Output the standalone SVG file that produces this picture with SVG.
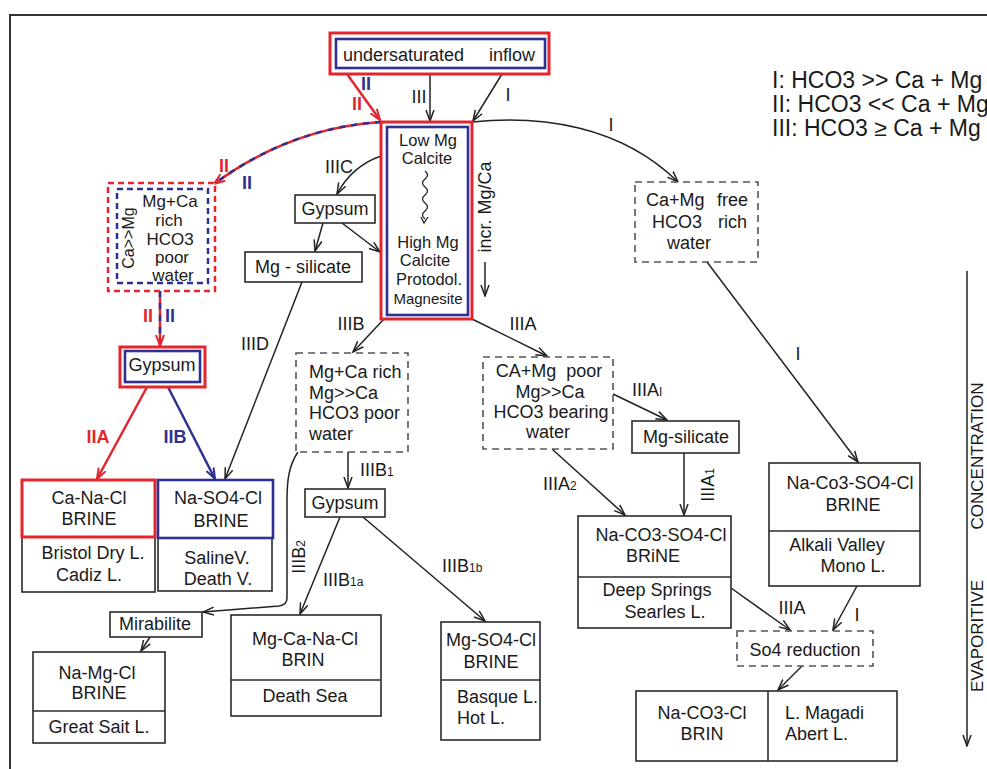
<svg xmlns="http://www.w3.org/2000/svg" width="987" height="769" viewBox="0 0 987 769">
<style>
text{font-family:"Liberation Sans",Arial,sans-serif;font-size:18px;fill:#1a1a1a}
.m{text-anchor:middle}
.box{fill:#fff;stroke:#2a2a2a;stroke-width:1.6}
.dash{fill:#fff;stroke:#555;stroke-width:1.6;stroke-dasharray:7 5}
.red{fill:none;stroke:#e3262e;stroke-width:3}
.blue{fill:none;stroke:#2e3192;stroke-width:2.6}
.ln{fill:none;stroke:#222;stroke-width:1.5;marker-end:url(#ah)}
.lr{fill:none;stroke:#e3262e;stroke-width:2.5;marker-end:url(#ahr)}
.lb{fill:none;stroke:#2e3192;stroke-width:2.5;marker-end:url(#ahb)}
.ov{fill:none;stroke:#2e3192;stroke-width:2.5;stroke-dasharray:6 6}
.rt{fill:#e3262e;font-weight:bold}
.bt{fill:#2e3192;font-weight:bold}
.sub{font-size:12px}
.cb{font-size:16.5px}
.lg{font-size:23px}
</style>
<defs>
<marker id="ah" viewBox="0 0 12 10" refX="11" refY="5" markerWidth="12" markerHeight="10" markerUnits="userSpaceOnUse" orient="auto"><path d="M0,1 L11,5 L0,9" fill="none" stroke="#222" stroke-width="1.5"/></marker>
<marker id="ahr" viewBox="0 0 12 10" refX="11" refY="5" markerWidth="12" markerHeight="10" markerUnits="userSpaceOnUse" orient="auto"><path d="M0,1 L11,5 L0,9" fill="none" stroke="#e3262e" stroke-width="2"/></marker>
<marker id="ahb" viewBox="0 0 12 10" refX="11" refY="5" markerWidth="12" markerHeight="10" markerUnits="userSpaceOnUse" orient="auto"><path d="M0,1 L11,5 L0,9" fill="none" stroke="#2e3192" stroke-width="2"/></marker>
</defs>
<rect width="987" height="769" fill="#fff"/>
<path d="M10,769 V15 H987" fill="none" stroke="#333" stroke-width="2"/>

<g id="connectors">
<path class="lr" d="M347,74 L380,120"/>
<path class="ln" d="M430,74 V121"/>
<path class="ln" d="M502,74 L473,121"/>
<path class="ln" d="M472,122 C540,115 620,125 678,182"/>
<path class="lr" d="M381,122 Q290,128 214,184"/>
<path class="ov" d="M381,122 Q290,128 214,184"/>
<path class="ln" d="M381,156 Q352,166 337,194"/>
<path class="ln" d="M323,223 L315,251"/>
<path class="ln" d="M342,223 L380,252"/>
<path class="ln" d="M302,282 L225,479"/>
<path class="lr" d="M160,291 V346"/>
<path class="ov" d="M160,291 V340"/>
<path class="lr" d="M147,387 L97,479"/>
<path class="lb" d="M168,387 L215,479"/>
<path class="ln" d="M384,319 L353,352"/>
<path class="ln" d="M472,319 L547,356"/>
<path class="ln" d="M348,452 V488"/>
<path class="ln" d="M298,452 C289,465 287,480 287,500 L287,598 Q287,605 279,606 L203,612"/>
<path class="ln" d="M340,517 L300,614"/>
<path class="ln" d="M363,517 L485,621"/>
<path class="ln" d="M613,394 L667,420"/>
<path class="ln" d="M552,449 L625,515"/>
<path class="ln" d="M684,453 V515"/>
<path class="ln" d="M707,262 L858,462"/>
<path class="ln" d="M731,588 L790,630"/>
<path class="ln" d="M857,586 L833,630"/>
<path class="ln" d="M802,666 L778,690"/>
<path class="ln" d="M150,637 L141,651"/>
<path class="ln" d="M967,271 V746"/>
<path class="ln" d="M485,262 V296"/>
</g>

<g id="labels">
<text class="m bt" x="366" y="90">II</text>
<text class="m rt" x="357" y="110">II</text>
<text class="m" x="419" y="103">III</text>
<text class="m" x="508" y="101">I</text>
<text class="m" x="611" y="131">I</text>
<text class="m rt" x="224" y="172">II</text>
<text class="m bt" x="247" y="189">II</text>
<text class="m" x="339" y="173">IIIC</text>
<text class="m rt" x="148" y="322">II</text>
<text class="m bt" x="170" y="322">II</text>
<text class="m rt" x="98" y="443">IIA</text>
<text class="m bt" x="175" y="443">IIB</text>
<text class="m" x="255" y="350">IIID</text>
<text class="m" x="351" y="330">IIIB</text>
<text class="m" x="523" y="330">IIIA</text>
<text x="360" y="476">IIIB<tspan class="sub">1</tspan></text>
<text x="543" y="490">IIIA<tspan class="sub">2</tspan></text>
<text x="632" y="396">IIIA<tspan class="sub">I</tspan></text>
<text transform="translate(714,485) rotate(-90)" class="m">IIIA<tspan class="sub">1</tspan></text>
<text class="m" x="798" y="360">I</text>
<text transform="translate(305,557) rotate(-90)" class="m">IIIB<tspan class="sub">2</tspan></text>
<text x="323" y="586">IIIB<tspan class="sub">1a</tspan></text>
<text x="442" y="572">IIIB<tspan class="sub">1b</tspan></text>
<text class="m" x="792" y="614">IIIA</text>
<text class="m" x="857" y="621">I</text>
</g>

<g id="legend">
<text class="lg" x="772" y="88">I: HCO3 &gt;&gt; Ca + Mg</text>
<text class="lg" x="772" y="112">II: HCO3 &lt;&lt; Ca + Mg</text>
<text class="lg" x="772" y="136">III: HCO3 ≥ Ca + Mg</text>
</g>

<g id="axis">
<text transform="translate(983,456) rotate(-90)" class="m" style="font-size:17px">CONCENTRATION</text>
<text transform="translate(983,636) rotate(-90)" class="m" style="font-size:17px">EVAPORITIVE</text>
</g>

<g id="inflow">
<rect class="red" x="330" y="33" width="219" height="41" fill="#fff"/>
<rect class="blue" x="336" y="39" width="209" height="29"/>
<text y="61"><tspan x="343">undersaturated</tspan><tspan x="489">inflow</tspan></text>
</g>

<g id="calcite">
<rect class="red" x="381" y="122" width="91" height="197"/>
<rect class="blue" x="387" y="127" width="81" height="188"/>
<text class="m cb" x="428" y="146">Low Mg</text>
<text class="m cb" x="427" y="164">Calcite</text>
<path d="M425,171 q5,4 0,8 t0,8 t0,8 t0,8 t0,8 t0,8" fill="none" stroke="#222" stroke-width="1.3"/>
<path d="M421,217 L424,223 L428,217" fill="none" stroke="#222" stroke-width="1.3"/>
<text class="m cb" x="428" y="248">High Mg</text>
<text class="m cb" x="425" y="266">Calcite</text>
<text class="m cb" x="429" y="285">Protodol.</text>
<text class="m" x="428" y="304" style="font-size:15px">Magnesite</text>
<text transform="translate(491,207) rotate(-90)" class="m">incr. Mg/Ca</text>
</g>

<g id="mgca-rich-left">
<rect x="108" y="183" width="107" height="108" fill="#fff" stroke="#e3262e" stroke-width="2.5" stroke-dasharray="6 4"/>
<rect x="117" y="189" width="91" height="94" fill="none" stroke="#2e3192" stroke-width="2.5" stroke-dasharray="6 4"/>
<text class="m" x="170" y="207" style="font-size:17px">Mg+Ca</text>
<text class="m" x="169" y="226" style="font-size:17px">rich</text>
<text class="m" x="170" y="245" style="font-size:17px">HCO3</text>
<text class="m" x="172" y="263" style="font-size:17px">poor</text>
<text class="m" x="173" y="281" style="font-size:17px">water</text>
<text transform="translate(134,238) rotate(-90)" class="m" style="font-size:16px">Ca&gt;&gt;Mg</text>
</g>

<g id="gypsum-left">
<rect class="red" x="120" y="347" width="85" height="40" fill="#fff"/>
<rect class="blue" x="125" y="351" width="75" height="31"/>
<text class="m" x="162" y="371">Gypsum</text>
</g>

<g id="ca-na-cl">
<rect class="box" x="22" y="537" width="133" height="55"/>
<rect class="red" x="22" y="480" width="133" height="57" fill="#fff"/>
<text class="m" x="89" y="504">Ca-Na-Cl</text>
<text class="m" x="89" y="525">BRINE</text>
<text class="m" x="93" y="559">Bristol Dry L.</text>
<text class="m" x="89" y="581">Cadiz L.</text>
</g>

<g id="na-so4-cl">
<rect class="box" x="158" y="538" width="114" height="53"/>
<rect class="blue" x="158" y="480" width="115" height="58" fill="#fff" stroke-width="3"/>
<text class="m" x="218" y="504">Na-SO4-Cl</text>
<text class="m" x="221" y="527">BRINE</text>
<text class="m" x="217" y="564">SalineV.</text>
<text class="m" x="218" y="585">Death V.</text>
</g>

<g id="gypsum-iiic">
<rect class="box" x="295" y="195" width="80" height="28"/>
<text class="m" x="335" y="215">Gypsum</text>
</g>

<g id="mg-silicate-left">
<rect class="box" x="245" y="252" width="117" height="30"/>
<text class="m" x="303" y="273">Mg - silicate</text>
</g>

<g id="mgca-rich-mid">
<rect class="dash" x="296" y="353" width="112" height="99"/>
<text x="309" y="378">Mg+Ca rich</text>
<text x="309" y="399">Mg&gt;&gt;Ca</text>
<text x="309" y="419">HCO3 poor</text>
<text x="309" y="440">water</text>
</g>

<g id="camg-poor">
<rect class="dash" x="483" y="357" width="130" height="92"/>
<text class="m" x="549" y="377" xml:space="preserve">CA+Mg  poor</text>
<text class="m" x="550" y="398">Mg&gt;&gt;Ca</text>
<text class="m" x="551" y="418">HCO3 bearing</text>
<text class="m" x="548" y="438">water</text>
</g>

<g id="gypsum-mid">
<rect class="box" x="305" y="489" width="80" height="28"/>
<text class="m" x="345" y="509">Gypsum</text>
</g>

<g id="mirabilite">
<rect class="box" x="110" y="612" width="92" height="25"/>
<text class="m" x="155" y="630">Mirabilite</text>
</g>

<g id="na-mg-cl">
<rect class="box" x="33" y="652" width="132" height="91"/>
<line x1="33" y1="711" x2="165" y2="711" stroke="#2a2a2a" stroke-width="1.6"/>
<text class="m" x="97" y="679">Na-Mg-Cl</text>
<text class="m" x="99" y="699">BRINE</text>
<text class="m" x="99" y="733">Great Sait L.</text>
</g>

<g id="mg-ca-na-cl">
<rect class="box" x="231" y="615" width="150" height="101"/>
<line x1="231" y1="680" x2="381" y2="680" stroke="#2a2a2a" stroke-width="1.6"/>
<text class="m" x="305" y="645">Mg-Ca-Na-Cl</text>
<text class="m" x="303" y="666">BRIN</text>
<text class="m" x="305" y="702">Death Sea</text>
</g>

<g id="mg-so4-cl">
<rect class="box" x="441" y="622" width="99" height="118"/>
<line x1="441" y1="680" x2="540" y2="680" stroke="#2a2a2a" stroke-width="1.6"/>
<text class="m" x="491" y="646">Mg-SO4-Cl</text>
<text class="m" x="491" y="668">BRINE</text>
<text x="457" y="703">Basque L.</text>
<text x="457" y="724">Hot L.</text>
</g>

<g id="camg-free">
<rect class="dash" x="635" y="182" width="123" height="80"/>
<text y="206"><tspan x="646">Ca+Mg</tspan><tspan x="717">free</tspan></text>
<text y="228"><tspan x="652">HCO3</tspan><tspan x="718">rich</tspan></text>
<text class="m" x="689" y="249">water</text>
</g>

<g id="mg-silicate-right">
<rect class="box" x="632" y="421" width="107" height="32"/>
<text class="m" x="686" y="443">Mg-silicate</text>
</g>

<g id="na-co3-so4-cl">
<rect class="box" x="578" y="516" width="153" height="112"/>
<line x1="578" y1="577" x2="731" y2="577" stroke="#2a2a2a" stroke-width="1.6"/>
<text class="m" x="661" y="541">Na-CO3-SO4-Cl</text>
<text class="m" x="653" y="562">BRiNE</text>
<text class="m" x="657" y="596">Deep Springs</text>
<text class="m" x="665" y="618">Searles L.</text>
</g>

<g id="na-co3-so4-cl-right">
<rect class="box" x="769" y="463" width="151" height="123"/>
<line x1="769" y1="531" x2="920" y2="531" stroke="#2a2a2a" stroke-width="1.6"/>
<text class="m" x="850" y="489">Na-Co3-SO4-Cl</text>
<text class="m" x="853" y="511">BRINE</text>
<text class="m" x="837" y="551">Alkali Valley</text>
<text class="m" x="853" y="572">Mono L.</text>
</g>

<g id="so4-reduction">
<rect class="dash" x="737" y="631" width="136" height="35"/>
<text class="m" x="805" y="656">So4 reduction</text>
</g>

<g id="na-co3-cl">
<rect class="box" x="636" y="691" width="261" height="70"/>
<line x1="768" y1="691" x2="768" y2="761" stroke="#2a2a2a" stroke-width="1.6"/>
<text class="m" x="702" y="719">Na-CO3-Cl</text>
<text class="m" x="702" y="740">BRIN</text>
<text x="785" y="719">L. Magadi</text>
<text x="785" y="740">Abert L.</text>
</g>
</svg>
